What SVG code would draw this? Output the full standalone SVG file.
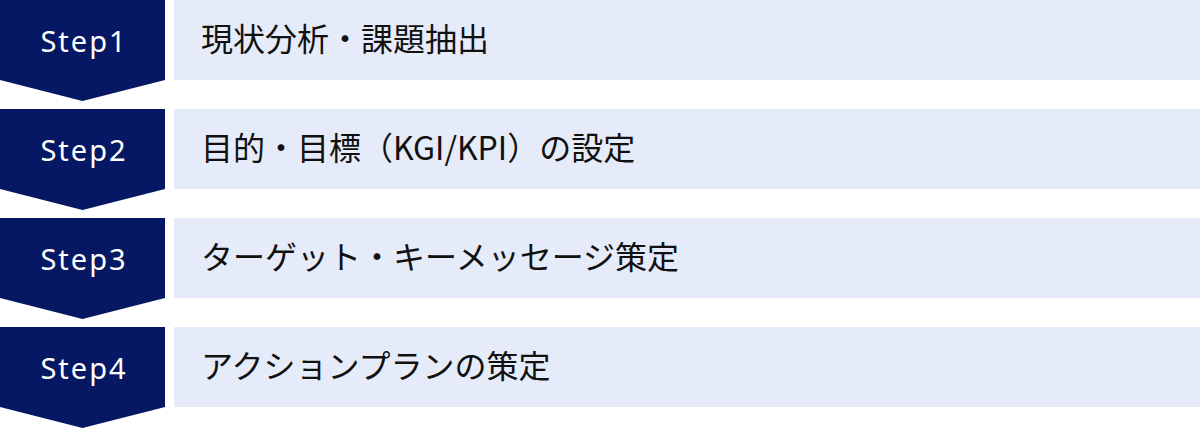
<svg xmlns="http://www.w3.org/2000/svg" width="1200" height="429" viewBox="0 0 1200 429">
<style>
.badge{fill:#061863}
.panel{fill:#E5EBF9}
.step{font-family:"Noto Sans","Noto Sans CJK JP",sans-serif;font-size:29px;fill:#ffffff;letter-spacing:2px;text-anchor:middle}
.lbl{font-family:"Noto Sans CJK JP","Noto Sans",sans-serif;font-size:32px;fill:#111111}
</style>
<g id="step1">
<polygon class="badge" points="0,0 165,0 165,80 82.5,101 0,80"/>
<rect class="panel" x="174" y="0" width="1026" height="80"/>
<text class="step" x="84" y="52">Step1</text>
<text class="lbl" x="201" y="51">現状分析・課題抽出</text>
</g>
<g id="step2">
<polygon class="badge" points="0,109 165,109 165,189 82.5,210 0,189"/>
<rect class="panel" x="174" y="109" width="1026" height="80"/>
<text class="step" x="84" y="161">Step2</text>
<text class="lbl" x="201" y="160">目的・目標（KGI/KPI）の設定</text>
</g>
<g id="step3">
<polygon class="badge" points="0,218 165,218 165,298 82.5,319 0,298"/>
<rect class="panel" x="174" y="218" width="1026" height="80"/>
<text class="step" x="84" y="270">Step3</text>
<text class="lbl" x="201" y="269">ターゲット・キーメッセージ策定</text>
</g>
<g id="step4">
<polygon class="badge" points="0,327 165,327 165,407 82.5,428 0,407"/>
<rect class="panel" x="174" y="327" width="1026" height="80"/>
<text class="step" x="84" y="379">Step4</text>
<text class="lbl" x="201" y="378">アクションプランの策定</text>
</g>
<g id="connectors"></g>
</svg>
